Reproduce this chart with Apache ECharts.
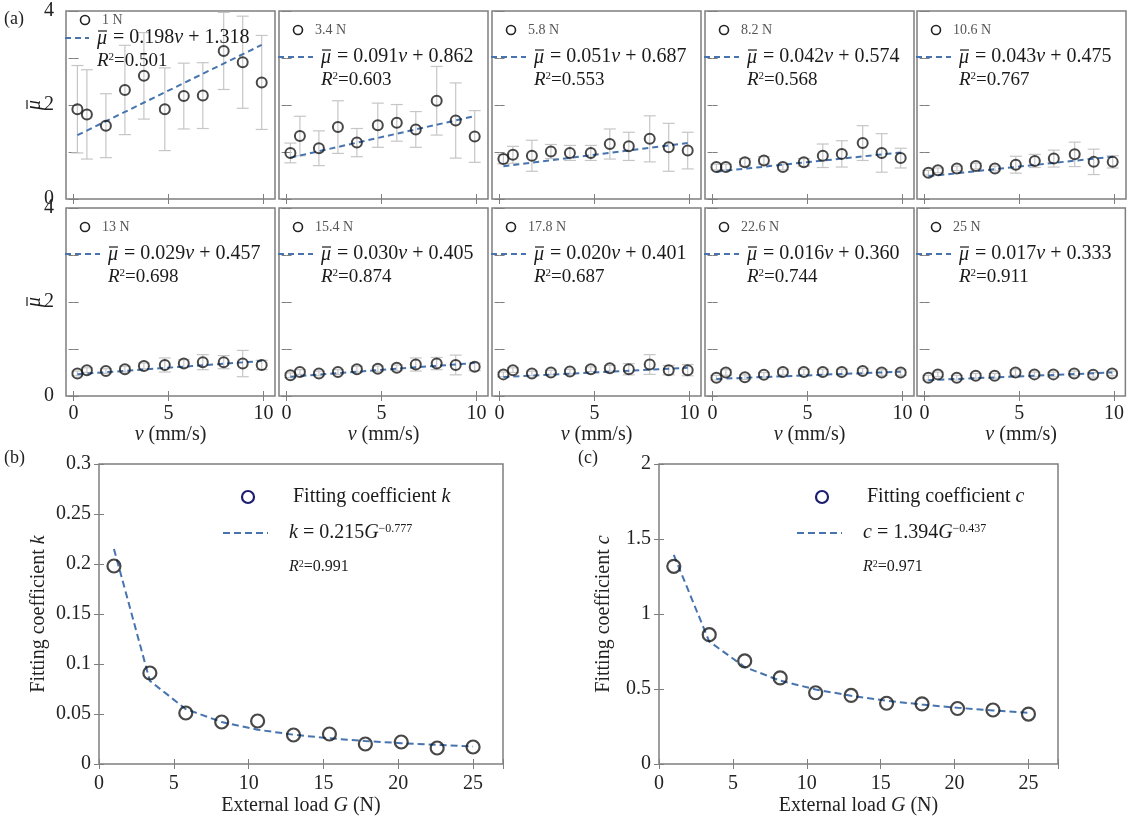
<!DOCTYPE html>
<html lang="en">
<head>
  <meta charset="UTF-8">
  <title>Friction fitting</title>
  <style>
    html, body {margin: 0; padding: 0; background: #fff;}
    #chart {width: 1127px; height: 817px;}
  </style>
</head>
<body>
  <div id="chart"></div>
  <script src="https://cdn.jsdelivr.net/npm/echarts@6.0.0/dist/echarts.min.js"></script>
  <script>
    // sliding velocity (mm/s) used in every small panel
    var vel = [0.2, 0.7, 1.7, 2.7, 3.7, 4.8, 5.8, 6.8, 7.9, 8.9, 9.9];
    var panelLoads = ['1', '3.4', '5.8', '8.2', '10.6', '13', '15.4', '17.8', '22.6', '25'];

    // mean friction coefficient per panel
    var muMean = [
      [1.91, 1.80, 1.56, 2.32, 2.62, 1.91, 2.19, 2.20, 3.15, 2.91, 2.48],
      [0.98, 1.34, 1.08, 1.53, 1.20, 1.57, 1.62, 1.48, 2.09, 1.67, 1.33],
      [0.85, 0.94, 0.92, 1.01, 0.98, 0.98, 1.17, 1.12, 1.28, 1.10, 1.03],
      [0.68, 0.68, 0.78, 0.82, 0.68, 0.78, 0.92, 0.96, 1.19, 0.98, 0.87],
      [0.56, 0.61, 0.65, 0.70, 0.65, 0.73, 0.81, 0.86, 0.95, 0.79, 0.79],
      [0.48, 0.55, 0.53, 0.57, 0.64, 0.66, 0.69, 0.72, 0.72, 0.69, 0.66],
      [0.44, 0.51, 0.48, 0.51, 0.57, 0.58, 0.60, 0.67, 0.69, 0.66, 0.62],
      [0.46, 0.55, 0.48, 0.50, 0.52, 0.57, 0.59, 0.57, 0.67, 0.55, 0.55],
      [0.39, 0.50, 0.40, 0.45, 0.51, 0.51, 0.51, 0.51, 0.53, 0.50, 0.50],
      [0.39, 0.46, 0.39, 0.43, 0.43, 0.50, 0.46, 0.46, 0.48, 0.45, 0.48]
    ];
    // half length of error bars
    var muErr = [
      [0.93, 0.95, 0.68, 0.95, 0.92, 0.88, 0.70, 0.70, 0.82, 0.98, 1.00],
      [0.21, 0.42, 0.37, 0.56, 0.30, 0.47, 0.39, 0.38, 0.73, 0.80, 0.55],
      [0.10, 0.18, 0.33, 0.15, 0.16, 0.16, 0.32, 0.30, 0.49, 0.51, 0.39],
      [0.06, 0.06, 0.08, 0.08, 0.06, 0.08, 0.25, 0.28, 0.37, 0.41, 0.21],
      [0.05, 0.05, 0.05, 0.06, 0.05, 0.18, 0.14, 0.18, 0.26, 0.27, 0.13],
      [0.05, 0.05, 0.05, 0.06, 0.06, 0.15, 0.08, 0.16, 0.14, 0.28, 0.10],
      [0.05, 0.05, 0.05, 0.05, 0.06, 0.06, 0.06, 0.14, 0.13, 0.21, 0.08],
      [0.05, 0.05, 0.05, 0.05, 0.05, 0.05, 0.06, 0.12, 0.21, 0.10, 0.12],
      [0.05, 0.06, 0.05, 0.05, 0.06, 0.06, 0.06, 0.06, 0.06, 0.06, 0.06],
      [0.05, 0.05, 0.05, 0.05, 0.05, 0.06, 0.05, 0.05, 0.05, 0.05, 0.05]
    ];

    // linear fits shown in each panel
    var fitSlope = ['0.198', '0.091', '0.051', '0.042', '0.043', '0.029', '0.030', '0.020', '0.016', '0.017'];
    var fitIntercept = ['1.318', '0.862', '0.687', '0.574', '0.475', '0.457', '0.405', '0.401', '0.360', '0.333'];
    var fitR2 = ['0.501', '0.603', '0.553', '0.568', '0.767', '0.698', '0.874', '0.687', '0.744', '0.911'];
    var fitLo = [1.358, 0.880, 0.697, 0.582, 0.484, 0.463, 0.411, 0.405, 0.363, 0.336];  // at v = 0.2
    var fitHi = [3.278, 1.763, 1.192, 0.990, 0.901, 0.744, 0.702, 0.599, 0.518, 0.501];  // at v = 9.9

    // (b) and (c)
    var loadG = [1, 3.4, 5.8, 8.2, 10.6, 13, 15.4, 17.8, 20.2, 22.6, 25];
    var kVals = [0.198, 0.091, 0.051, 0.042, 0.043, 0.029, 0.030, 0.020, 0.022, 0.016, 0.017];
    var kFit = [0.215, 0.0831, 0.0549, 0.0419, 0.0343, 0.0293, 0.0257, 0.0230, 0.0208, 0.0191, 0.0176];
    var cVals = [1.318, 0.862, 0.687, 0.574, 0.475, 0.457, 0.405, 0.401, 0.370, 0.360, 0.333];
    var cFit = [1.394, 0.8166, 0.6466, 0.5558, 0.4969, 0.4545, 0.4220, 0.3962, 0.3749, 0.3569, 0.3415];

    var FONT = 'Liberation Serif';
    var FRAME = '#7f7f7f';
    var DASH = '#4774ae';
    var BAR = '#c6c6c6';
    var INK = '#1a1a1a';

    var chart = echarts.init(document.getElementById('chart'));

    var grids = [], xAxes = [], yAxes = [], series = [], graphics = [];

    function addGrid(left, top, width, height) {
      grids.push({left: left, top: top, width: width, height: height, show: true,
        borderColor: FRAME, borderWidth: 1.5, backgroundColor: '#fff'});
      return grids.length - 1;
    }

    function tickStyle(custom) {
      var t = {show: true, inside: true, length: 5, lineStyle: {color: FRAME, width: 1}};
      if (custom) t.customValues = custom;
      return t;
    }

    function zip(xs, ys) {
      return xs.map(function (x, i) { return [x, ys[i]]; });
    }

    function renderErr(params, api) {
      var x = api.value(0);
      var top = api.coord([x, api.value(2)]);
      var bot = api.coord([x, api.value(1)]);
      var w = 6;
      var st = {stroke: BAR, lineWidth: 1.2};
      return {type: 'group', children: [
        {type: 'line', shape: {x1: top[0], y1: top[1], x2: bot[0], y2: bot[1]}, style: st},
        {type: 'line', shape: {x1: top[0] - w, y1: top[1], x2: top[0] + w, y2: top[1]}, style: st},
        {type: 'line', shape: {x1: bot[0] - w, y1: bot[1], x2: bot[0] + w, y2: bot[1]}, style: st}
      ]};
    }

    var richText = {
      i: {fontStyle: 'italic', fontFamily: FONT, fontSize: 20, fill: INK},
      n: {fontFamily: FONT, fontSize: 20, fill: INK},
      ri: {fontStyle: 'italic', fontFamily: FONT, fontSize: 19, fill: INK},
      rn: {fontFamily: FONT, fontSize: 19, fill: INK},
      sup: {fontFamily: FONT, fontSize: 11, fill: INK, verticalAlign: 'top'}
    };

    // mu with an overbar (the bar is drawn as a short line)
    function muBar(x, y, rot) {
      graphics.push({type: 'group', x: x, y: y, rotation: rot, z: 100, children: [
        {type: 'text', x: 0, y: 0, style: {text: 'μ', fontFamily: FONT, fontStyle: 'italic',
          fontSize: 20, fill: INK, textAlign: 'center', textVerticalAlign: 'middle'}},
        {type: 'line', shape: {x1: -4, y1: -8, x2: 5, y2: -8}, style: {stroke: INK, lineWidth: 1.2}}
      ]});
    }

    // ---- (a) small panels ----
    var pLeft = [66, 279, 492, 705, 917];
    var pTop = [11, 208];
    var pW = 209, pH = 188;

    for (var p = 0; p < 10; p++) {
      var row = Math.floor(p / 5), col = p % 5;
      var gl = pLeft[col], gt = pTop[row];
      var g = addGrid(gl, gt, pW, pH);
      var showX = row === 1, showY = col === 0;

      xAxes.push({
        gridIndex: g, type: 'value', min: -0.4, max: 10.6, position: 'bottom',
        axisLine: {show: false}, splitLine: {show: false},
        axisTick: tickStyle([0, 5, 10]),
        axisLabel: {show: showX, customValues: [0, 5, 10], margin: 8,
          fontFamily: FONT, fontSize: 20, color: '#222'},
        name: showX ? '{i|v} (mm/s)' : '', nameLocation: 'middle', nameGap: 26,
        nameTextStyle: {fontFamily: FONT, fontSize: 20, color: '#222',
          rich: {i: {fontStyle: 'italic', fontFamily: FONT, fontSize: 20, color: '#222'}}}
      });
      xAxes.push({
        gridIndex: g, type: 'value', min: -0.4, max: 10.6, position: 'top',
        axisLine: {show: false}, splitLine: {show: false}, axisLabel: {show: false},
        axisTick: tickStyle([0, 5, 10])
      });
      yAxes.push({
        gridIndex: g, type: 'value', min: 0, max: 4, interval: 1, position: 'left',
        axisLine: {show: false}, splitLine: {show: false},
        axisTick: tickStyle(),
        axisLabel: {show: showY, customValues: [0, 2, 4], margin: 12,
          fontFamily: FONT, fontSize: 20, color: '#222'}
      });
      yAxes.push({
        gridIndex: g, type: 'value', min: 0, max: 4, interval: 1, position: 'right',
        axisLine: {show: false}, splitLine: {show: false}, axisLabel: {show: false},
        axisTick: tickStyle()
      });
      if (showY) muBar(35, gt + pH / 2, Math.PI / 2);

      var xi = xAxes.length - 2, yi = yAxes.length - 2;
      var bars = vel.map(function (v, i) {
        return [v, muMean[p][i] - muErr[p][i], muMean[p][i] + muErr[p][i]];
      });
      series.push({
        type: 'custom', xAxisIndex: xi, yAxisIndex: yi, renderItem: renderErr,
        data: bars, z: 1, silent: true
      });
      series.push({
        type: 'line', xAxisIndex: xi, yAxisIndex: yi, showSymbol: false, z: 2,
        lineStyle: {color: DASH, width: 2, type: [6, 4]},
        data: [[vel[0], fitLo[p]], [vel[vel.length - 1], fitHi[p]]]
      });
      series.push({
        type: 'scatter', xAxisIndex: xi, yAxisIndex: yi, symbol: 'circle', symbolSize: 10, z: 3,
        itemStyle: {color: 'rgba(0,0,0,0)', borderColor: INK, borderWidth: 2},
        data: zip(vel, muMean[p])
      });

      // in-panel legend
      var first = p === 0;
      var cy = gt + (first ? 9 : 19);
      var eqY = gt + (first ? 27 : 46);
      var r2Y = gt + (first ? 50 : 69);
      var eqX = gl + (first ? 31 : 42);
      graphics.push({type: 'circle', shape: {cx: gl + 19, cy: cy, r: 4.5},
        style: {fill: 'none', stroke: '#222', lineWidth: 1.6}, z: 100});
      graphics.push({type: 'text', x: gl + 36, y: cy, z: 100,
        style: {text: panelLoads[p] + ' N', fontFamily: FONT, fontSize: 14, fill: '#555',
          textVerticalAlign: 'middle'}});
      graphics.push({type: 'line', shape: {x1: gl - 1, y1: eqY, x2: eqX - 8, y2: eqY}, z: 100,
        style: {stroke: DASH, lineWidth: 2, lineDash: [6, 4]}});
      muBar(eqX + 5, eqY + 1, 0);
      graphics.push({type: 'text', x: eqX + 11, y: eqY, z: 100,
        style: {text: '{n| = ' + fitSlope[p] + '}{i|v}{n| + ' + fitIntercept[p] + '}',
          rich: richText, textVerticalAlign: 'middle'}});
      graphics.push({type: 'text', x: eqX, y: r2Y, z: 100,
        style: {text: '{ri|R}{sup|2}{rn|=' + fitR2[p] + '}', rich: richText, textVerticalAlign: 'middle'}});
    }

    // ---- (b) and (c) ----
    function bigPanel(left, width, yMax, yInt, yGap, vals, fit, sym, eq, r2) {
      var g = addGrid(left, 464, width, 300);
      xAxes.push({
        gridIndex: g, type: 'value', min: 0, max: 27, interval: 5, position: 'bottom',
        axisLine: {show: false}, splitLine: {show: false}, axisTick: tickStyle(),
        axisLabel: {margin: 10, fontFamily: FONT, fontSize: 20, color: '#222',
          formatter: function (v) { return v > 25 ? '' : v; }},
        name: 'External load {i|G} (N)', nameLocation: 'middle', nameGap: 32,
        nameTextStyle: {fontFamily: FONT, fontSize: 20, color: '#222',
          rich: {i: {fontStyle: 'italic', fontFamily: FONT, fontSize: 20, color: '#222'}}}
      });
      xAxes.push({
        gridIndex: g, type: 'value', min: 0, max: 27, interval: 5, position: 'top',
        axisLine: {show: false}, splitLine: {show: false}, axisLabel: {show: false},
        axisTick: tickStyle()
      });
      yAxes.push({
        gridIndex: g, type: 'value', min: 0, max: yMax, interval: yInt, position: 'left',
        axisLine: {show: false}, splitLine: {show: false}, axisTick: tickStyle(),
        axisLabel: {margin: 8, fontFamily: FONT, fontSize: 20, color: '#222'},
        name: 'Fitting coefficient {i|' + sym + '}', nameLocation: 'middle', nameGap: yGap,
        nameTextStyle: {fontFamily: FONT, fontSize: 20, color: '#222',
          rich: {i: {fontStyle: 'italic', fontFamily: FONT, fontSize: 20, color: '#222'}}}
      });
      yAxes.push({
        gridIndex: g, type: 'value', min: 0, max: yMax, interval: yInt, position: 'right',
        axisLine: {show: false}, splitLine: {show: false}, axisLabel: {show: false},
        axisTick: tickStyle()
      });
      var xi = xAxes.length - 2, yi = yAxes.length - 2;
      series.push({
        type: 'line', xAxisIndex: xi, yAxisIndex: yi, showSymbol: false, z: 2,
        lineStyle: {color: DASH, width: 2, type: [7, 4]},
        data: zip(loadG, fit)
      });
      series.push({
        type: 'scatter', xAxisIndex: xi, yAxisIndex: yi, symbol: 'circle', symbolSize: 13, z: 3,
        itemStyle: {color: 'rgba(0,0,0,0)', borderColor: INK, borderWidth: 2.2},
        data: zip(loadG, vals)
      });

      var lx = left + (sym === 'k' ? 124 : 138);
      var bigRich = {
        i: {fontStyle: 'italic', fontFamily: FONT, fontSize: 20, fill: INK},
        n: {fontFamily: FONT, fontSize: 20, fill: INK},
        sup: {fontFamily: FONT, fontSize: 12, fill: INK, verticalAlign: 'top'},
        si: {fontStyle: 'italic', fontFamily: FONT, fontSize: 16, fill: INK},
        sn: {fontFamily: FONT, fontSize: 16, fill: INK},
        ssup: {fontFamily: FONT, fontSize: 10, fill: INK, verticalAlign: 'top'}
      };
      graphics.push({type: 'circle', shape: {cx: lx + 25, cy: 497, r: 6},
        style: {fill: 'none', stroke: '#1c1c70', lineWidth: 2.2}, z: 100});
      graphics.push({type: 'text', x: lx + 70, y: 497, z: 100,
        style: {text: '{n|Fitting coefficient }{i|' + sym + '}', rich: bigRich, textVerticalAlign: 'middle'}});
      graphics.push({type: 'line', shape: {x1: lx, y1: 533, x2: lx + 45, y2: 533}, z: 100,
        style: {stroke: DASH, lineWidth: 2, lineDash: [7, 4]}});
      graphics.push({type: 'text', x: lx + 66, y: 533, z: 100,
        style: {text: '{i|' + sym + '}{n| = ' + eq[0] + '}{i|G}{sup|' + eq[1] + '}', rich: bigRich,
          textVerticalAlign: 'middle'}});
      graphics.push({type: 'text', x: lx + 66, y: 567, z: 100,
        style: {text: '{si|R}{ssup|2}{sn|=' + r2 + '}', rich: bigRich, textVerticalAlign: 'middle'}});
    }

    bigPanel(99, 404, 0.3, 0.05, 50, kVals, kFit, 'k', ['0.215', '−0.777'], '0.991');
    bigPanel(659, 399, 2, 0.5, 45, cVals, cFit, 'c', ['1.394', '−0.437'], '0.971');

    // panel letters
    [['(a)', 4, 19], ['(b)', 4, 458], ['(c)', 578, 458]].forEach(function (l) {
      graphics.push({type: 'text', x: l[1], y: l[2], z: 100,
        style: {text: l[0], fontFamily: FONT, fontSize: 18, fill: '#222', textVerticalAlign: 'middle'}});
    });

    var option = {
      animation: false,
      backgroundColor: '#fff',
      grid: grids,
      xAxis: xAxes,
      yAxis: yAxes,
      series: series,
      graphic: graphics
    };
    chart.setOption(option);
  </script>
</body>
</html>
